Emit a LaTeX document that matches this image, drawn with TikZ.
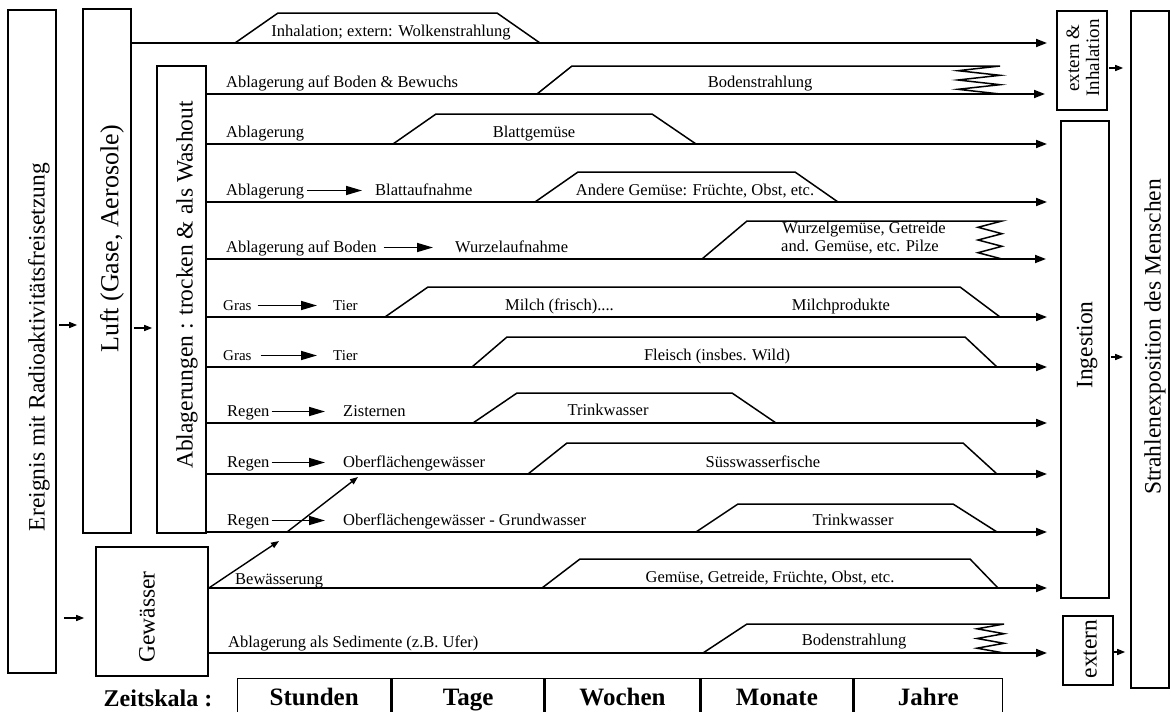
\documentclass[tikz,border=0pt]{standalone}
\usepackage{fontspec}
\setmainfont{Liberation Serif}
\usetikzlibrary{arrows.meta}
\begin{document}
\begin{tikzpicture}[x=1pt,y=-1pt,
  box/.style={draw, line width=1.6pt, inner sep=0pt},
  big/.style={font=\fontsize{23.5}{26}\selectfont, inner sep=0pt, rotate=90},
  lab/.style={font=\fontsize{16.5}{18}\selectfont, inner sep=0pt, anchor=base west},
  labs/.style={font=\fontsize{15}{17}\selectfont, inner sep=0pt, anchor=base west},
  ctr/.style={font=\fontsize{16.5}{18}\selectfont, inner sep=0pt, anchor=base},
  flow/.style={line width=1.8pt, -{Triangle[length=11pt,width=8pt]}},
  trap/.style={line width=1.5pt, line join=miter},
  inarr/.style={line width=1.6pt, -{Triangle[length=16pt,width=9pt]}},
  link/.style={line width=1.4pt, -{Triangle[length=8pt,width=6pt]}},
  cell/.style={draw, line width=1.4pt, anchor=north west, minimum height=36pt, inner sep=0pt,
    font=\bfseries\fontsize{25}{28}\selectfont, text height=17pt, text depth=0pt},
  tsc/.style={font=\bfseries\fontsize{24}{28}\selectfont, inner sep=0pt, anchor=base}]
\useasboundingbox (0,0) rectangle (1171,712);

% ---------- boxes ----------
\node[box, minimum width=48pt, minimum height=663pt] (ereignis) at (32,341.5) {};
\node[big] (tereignis) at (39,347) {Ereignis mit Radioaktivitätsfreisetzung};
\node[box, minimum width=48pt, minimum height=524pt] (luft) at (107,271) {};
\node[big, font=\fontsize{26}{28}\selectfont] (tluft) at (112,239) {Luft (Gase, Aerosole)};
\node[box, minimum width=49pt, minimum height=467pt] (abl) at (181.5,299.5) {};
\node[big] (tabl) at (187,285) {Ablagerungen : trocken \& als Washout};
\node[box, minimum width=112pt, minimum height=129pt] (gew) at (152,611.5) {};
\node[big] (tgew) at (147,617) {Gewässer};
\node[box, minimum width=50pt, minimum height=99pt] (extinh) at (1082,60.5) {};
\node[rotate=90, align=center, font=\fontsize{19}{20}\selectfont, inner sep=0pt] (textinh) at (1083,58) {extern \&\\Inhalation};
\node[box, minimum width=48pt, minimum height=477pt] (ing) at (1085,359.5) {};
\node[big] (ting) at (1087,345) {Ingestion};
\node[box, minimum width=50pt, minimum height=69pt] (ext) at (1088,650.5) {};
\node[big] (text1) at (1090,649) {extern};
\node[box, minimum width=38pt, minimum height=677pt] (str) at (1150,349.5) {};
\node[big] (tstr) at (1155,337) {Strahlenexposition des Menschen};

% ---------- links between boxes ----------
\draw[link, shorten <=2pt, shorten >=5pt] (ereignis.east |- 0,325) -- (luft.west |- 0,325);
\draw[link, shorten <=2pt, shorten >=4pt] (luft.east |- 0,328) -- (abl.west |- 0,328);
\draw[link, shorten <=7pt, shorten >=11pt] (ereignis.east |- 0,618) -- (gew.west |- 0,618);
\draw[link, shorten <=1pt, shorten >=7pt] (extinh.east |- 0,68) -- (str.west |- 0,68);
\draw[link, shorten <=1pt, shorten >=7pt] (ing.east |- 0,357) -- (str.west |- 0,357);
\draw[link, shorten <=0pt, shorten >=5pt] (ext.east |- 0,652) -- (str.west |- 0,652);

% ---------- row lines ----------
\coordinate (e0) at (1047,43);
\coordinate (e1) at (1045,94);
\coordinate (e2) at (1047,144);
\coordinate (e3) at (1047,202);
\coordinate (e4) at (1046,259);
\coordinate (e5) at (1047,317);
\coordinate (e6) at (1047,367);
\coordinate (e7) at (1047,423);
\coordinate (e8) at (1047,474);
\coordinate (e9) at (1047,532);
\coordinate (e10) at (1047,588);
\coordinate (e11) at (1047,653);
\draw[flow] (luft.east |- e0) -- (e0);
\foreach \i in {1,...,9} {\draw[flow] (abl.east |- e\i) -- (e\i);}
\draw[flow] (gew.east |- e10) -- (e10);
\draw[flow] (gew.east |- e11) -- (e11);

% ---------- trapezoids ----------
\draw[trap] (235,43) -- (278,13) -- (497,13) -- (540,43);
\draw[trap] (537,94) -- (572,66) -- (1000,66) -- (958,70.7) -- (1000,75.3) -- (958,80) -- (1000,84.7) -- (958,89.3) -- (1000,94);
\draw[trap] (393,144) -- (436,114) -- (652,114) -- (696,144);
\draw[trap] (535,202) -- (578,172) -- (795,172) -- (838,202);
\draw[trap] (702,259) -- (747,221) -- (1002,221) -- (978,227.3) -- (1002,233.7) -- (978,240) -- (1002,246.3) -- (978,252.7) -- (1002,259);
\draw[trap] (385,317) -- (428,287) -- (960,287) -- (1000,317);
\draw[trap] (472,367) -- (507,337) -- (965,337) -- (997,367);
\draw[trap] (473,423) -- (517,393) -- (732,393) -- (776,423);
\draw[trap] (528,474) -- (567,443) -- (963,443) -- (997,474);
\draw[trap] (696,532) -- (738,504) -- (953,504) -- (997,532);
\draw[trap] (542,588) -- (580,559) -- (970,559) -- (998,588);
\draw[trap] (703,653) -- (747,624) -- (1004,624) -- (977,628.8) -- (1004,633.7) -- (977,638.5) -- (1004,643.3) -- (977,648.2) -- (1004,653);

% ---------- trapezoid texts ----------
\node[ctr] (t0) at (391,36) {Inhalation; extern: Wolkenstrahlung};
\node[ctr] (t1) at (760,87) {Bodenstrahlung};
\node[ctr] (t2) at (534,137) {Blattgemüse};
\node[ctr] (t3) at (695,195) {Andere Gemüse: Früchte, Obst, etc.};
\node[ctr] (t4a) at (864,233) {Wurzelgemüse, Getreide};
\node[ctr] (t4b) at (860,251) {and. Gemüse, etc. Pilze};
\node[lab] (t5a) at (505,310) {Milch (frisch)....};
\node[ctr] (t5b) at (841,310) {Milchprodukte};
\node[ctr] (t6) at (717,360) {Fleisch (insbes. Wild)};
\node[ctr] (t7) at (608,415) {Trinkwasser};
\node[ctr] (t8) at (763,467) {Süsswasserfische};
\node[ctr] (t9) at (853,525) {Trinkwasser};
\node[ctr] (t10) at (770,582) {Gemüse, Getreide, Früchte, Obst, etc.};
\node[ctr] (t11) at (854,645) {Bodenstrahlung};

% ---------- row labels ----------
\node[lab] (l1) at (226,87) {Ablagerung auf Boden \& Bewuchs};
\node[lab] (l2) at (226,137) {Ablagerung};
\node[lab] (l3a) at (226,195) {Ablagerung};
\node[lab] (l3b) at (375,195) {Blattaufnahme};
\node[lab] (l4a) at (226,252) {Ablagerung auf Boden};
\node[lab] (l4b) at (455,252) {Wurzelaufnahme};
\node[labs] (l5a) at (223,310) {Gras};
\node[labs] (l5b) at (333,310) {Tier};
\node[labs] (l6a) at (223,360) {Gras};
\node[labs] (l6b) at (333,360) {Tier};
\node[lab] (l7a) at (227,416) {Regen};
\node[lab] (l7b) at (343,416) {Zisternen};
\node[lab] (l8a) at (227,467) {Regen};
\node[lab] (l8b) at (343,467) {Oberflächengewässer};
\node[lab] (l9a) at (227,525) {Regen};
\node[lab] (l9b) at (343,525) {Oberflächengewässer - Grundwasser};
\node[lab] (l10) at (235,584) {Bewässerung};
\node[lab] (l11) at (228,647) {Ablagerung als Sedimente (z.B. Ufer)};

% ---------- in-row arrows ----------
\coordinate (a3) at ([yshift=4.5pt]l3a.base east);
\draw[inarr, shorten <=3pt, shorten >=13pt] (a3) -- (a3 -| l3b.west);
\coordinate (a4) at ([yshift=4.5pt]l4a.base east);
\draw[inarr, shorten <=7pt, shorten >=22pt] (a4) -- (a4 -| l4b.west);
\coordinate (a5) at ([yshift=4.5pt]l5a.base east);
\draw[inarr, shorten <=6pt, shorten >=16pt] (a5) -- (a5 -| l5b.west);
\coordinate (a6) at ([yshift=4.5pt]l6a.base east);
\draw[inarr, shorten <=9pt, shorten >=16pt] (a6) -- (a6 -| l6b.west);
\coordinate (a7) at ([yshift=4.5pt]l7a.base east);
\draw[inarr, shorten <=2pt, shorten >=18pt] (a7) -- (a7 -| l7b.west);
\coordinate (a8) at ([yshift=4.5pt]l8a.base east);
\draw[inarr, shorten <=2pt, shorten >=18pt] (a8) -- (a8 -| l8b.west);
\coordinate (a9) at ([yshift=4.5pt]l9a.base east);
\draw[inarr, shorten <=2pt, shorten >=18pt] (a9) -- (a9 -| l9b.west);

% ---------- diagonal arrows from Gewaesser ----------
\coordinate (d1) at (279,541);
\draw[link] (gew.east |- e10) -- (d1);
\coordinate (d2s) at (287,532);
\coordinate (d2e) at (358,477);
\draw[link] (d2s) -- (d2e);

% ---------- time scale ----------
\node[tsc] (zs) at (158,706) {Zeitskala :};
\node[cell, minimum width=153pt] (c1) at (237,678) {Stunden};
\node[cell, minimum width=152pt] (c2) at (c1.north east) {Tage};
\node[cell, minimum width=154pt] (c3) at (c2.north east) {Wochen};
\node[cell, minimum width=152pt] (c4) at (c3.north east) {Monate};
\node[cell, minimum width=148pt] (c5) at (c4.north east) {Jahre};
\end{tikzpicture}
\end{document}
